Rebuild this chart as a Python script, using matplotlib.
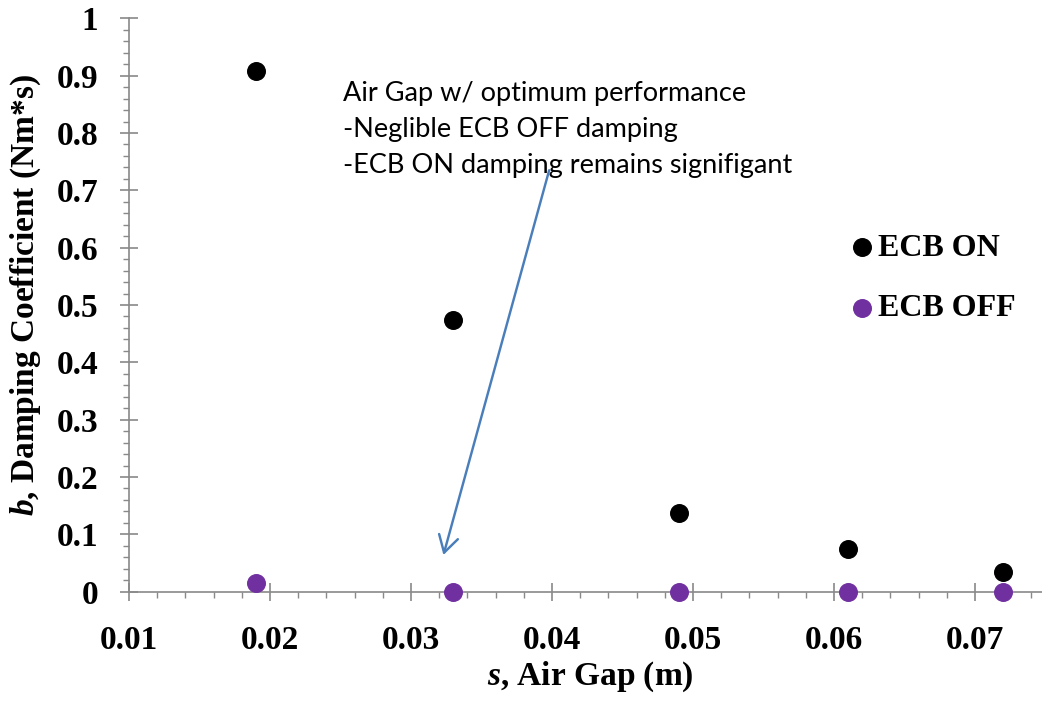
import matplotlib
matplotlib.use("Agg")
import matplotlib.pyplot as plt
from matplotlib.ticker import MultipleLocator, FuncFormatter

plt.rcParams["font.family"] = "Liberation Serif"
plt.rcParams["font.weight"] = "bold"
plt.rcParams["mathtext.fontset"] = "custom"
plt.rcParams["mathtext.bfit"] = "Liberation Serif:bold:italic"
plt.rcParams["mathtext.rm"] = "Liberation Serif:bold"

# data
air_gap = [0.019, 0.033, 0.049, 0.061, 0.072]
ecb_on = [0.908, 0.474, 0.137, 0.074, 0.034]
ecb_off = [0.015, 0.0, 0.0, 0.0, 0.0]

note_lines = ["Air Gap w/ optimum performance",
              "-Neglible ECB OFF damping",
              "-ECB ON damping remains signifigant"]
arrow_tail = (0.0398, 0.735)
arrow_head = (0.0323, 0.064)

axis_grey = "#898989"
purple = "#7030A0"

fig = plt.figure(figsize=(10.42, 7.04), dpi=100)
ax = fig.add_axes([129 / 1042, 112.3 / 704, 916.5 / 1042, 573.4 / 704])

ax.scatter(air_gap, ecb_on, s=160, color="black", label="ECB ON", zorder=3, clip_on=False)
ax.scatter(air_gap, ecb_off, s=160, color=purple, label="ECB OFF", zorder=3, clip_on=False)

ax.set_xlim(0.01, 0.075)
ax.set_ylim(0, 1)
ax.xaxis.set_major_locator(MultipleLocator(0.01))
ax.xaxis.set_minor_locator(MultipleLocator(0.002))
ax.yaxis.set_major_locator(MultipleLocator(0.1))
ax.yaxis.set_minor_locator(MultipleLocator(0.02))
ax.xaxis.set_major_formatter(FuncFormatter(lambda v, p: f"{v:.2f}" if v < 0.0745 else ""))
ax.yaxis.set_major_formatter(FuncFormatter(lambda v, p: f"{v:.1f}".rstrip("0").rstrip(".") if v > 0 else "0"))

for side in ["top", "right"]:
    ax.spines[side].set_visible(False)
for side in ["left", "bottom"]:
    ax.spines[side].set_color(axis_grey)
    ax.spines[side].set_linewidth(1.2)

ax.tick_params(which="major", direction="inout", length=12.5, width=1.2, color=axis_grey,
               labelsize=24, labelcolor="black")
ax.tick_params(which="minor", direction="out", length=4, width=1.0, color=axis_grey)
ax.tick_params(axis="x", which="major", pad=17.5)
ax.tick_params(axis="y", which="major", pad=16)

ax.set_xlabel(r"$\mathbfit{s}$, Air Gap (m)", fontsize=24, fontweight="bold")
ax.set_ylabel(r"$\mathbfit{b}$, Damping Coefficient (Nm*s)", fontsize=24, fontweight="bold")
ax.xaxis.set_label_coords(0.503, -0.118)
ax.yaxis.set_label_coords(-0.094, 0.517)

ax.legend(loc="upper left", bbox_to_anchor=(0.765, 0.653), frameon=False, fontsize=23,
          handletextpad=0.0, labelspacing=0.975, borderpad=0, handlelength=1.0)

ax.text(0.02515, 0.891, "\n".join(note_lines), fontsize=19.5, family="Lato", fontweight="normal",
        va="top", ha="left", linespacing=1.55)
ax.annotate("", xy=arrow_head, xytext=arrow_tail,
            arrowprops=dict(arrowstyle="->,head_length=0.6,head_width=0.35", color="#4A7EBB",
                            lw=1.75, mutation_scale=20, shrinkA=0, shrinkB=0))

fig.savefig("out.png", dpi=100)
